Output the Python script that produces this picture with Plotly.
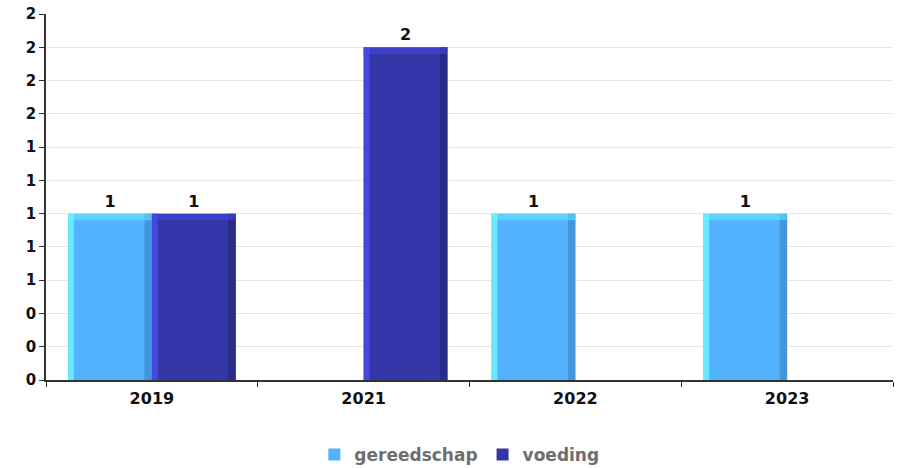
import plotly.graph_objects as go

# Yearly counts per category
years = ["2019", "2021", "2022", "2023"]
gereedschap = [1, None, 1, 1]
voeding = [1, 2, None, None]

series = [
    ("gereedschap", gereedschap, "#52B2FE", "#6EF6FF", "#3E8ED0"),
    ("voeding", voeding, "#3236A6", "#4A4CF0", "#262A80"),
]

BAR_W = 0.396          # width of one bar in category units
FONT = "DejaVu Sans"

fig = go.Figure()
shapes = []
n = len(series)
for k, (name, vals, main, light, dark) in enumerate(series):
    offset = -BAR_W * n / 2 + k * BAR_W
    fig.add_trace(go.Bar(
        name=name, x=years, y=vals,
        marker=dict(color=main, line=dict(width=0)),
        width=BAR_W, offset=offset,
        text=[("" if v is None else f"{v:.0f}") for v in vals],
        textposition="outside",
        textfont=dict(family=FONT, size=16, color="#111111", weight="bold"),
        cliponaxis=False,
    ))
    # bevel strips on the edges of each bar
    for i, v in enumerate(vals):
        if v is None:
            continue
        x0 = i + offset
        x1 = x0 + BAR_W
        shapes.append(dict(type="rect", xref="x", yref="y", layer="above",
                           x0=x0, x1=x0 + 0.028, y0=0, y1=v,
                           fillcolor=light, line=dict(width=0), opacity=0.8))
        shapes.append(dict(type="rect", xref="x", yref="y", layer="above",
                           x0=x1 - 0.035, x1=x1, y0=0, y1=v,
                           fillcolor=dark, line=dict(width=0), opacity=0.8))
        shapes.append(dict(type="rect", xref="x", yref="y", layer="above",
                           x0=x0, x1=x1, y0=v - 0.04, y1=v,
                           fillcolor=light, line=dict(width=0), opacity=0.45))

fig.update_layout(
    width=903, height=468,
    margin=dict(l=46, r=10, t=14, b=88, autoexpand=False),
    paper_bgcolor="white", plot_bgcolor="white",
    barmode="group", bargap=0.208, bargroupgap=0,
    shapes=shapes,
    showlegend=True,
    legend=dict(orientation="h", x=0.488, xanchor="center",
                y=-0.205, yanchor="middle",
                font=dict(family=FONT, size=17, color="#6E6E6E", weight="bold"),
                itemwidth=30, traceorder="normal"),
    xaxis=dict(type="category", range=[-0.5, 3.5],
               showline=True, linecolor="#333333", linewidth=1.5,
               ticks="outside", tickson="boundaries", ticklen=5,
               tickcolor="#333333", showgrid=False, ticklabelstandoff=3,
               tickfont=dict(family=FONT, size=16, color="#111111", weight="bold")),
    yaxis=dict(range=[0, 2.2], dtick=0.2, tick0=0, tickformat=".0f",
               showline=True, linecolor="#333333", linewidth=1.5,
               ticks="outside", ticklen=5, tickcolor="#333333",
               showgrid=True, gridcolor="#E6E6E6", gridwidth=1,
               zeroline=False,
               tickfont=dict(family=FONT, size=15, color="#111111", weight="bold")),
)

fig.write_html("out.html")
